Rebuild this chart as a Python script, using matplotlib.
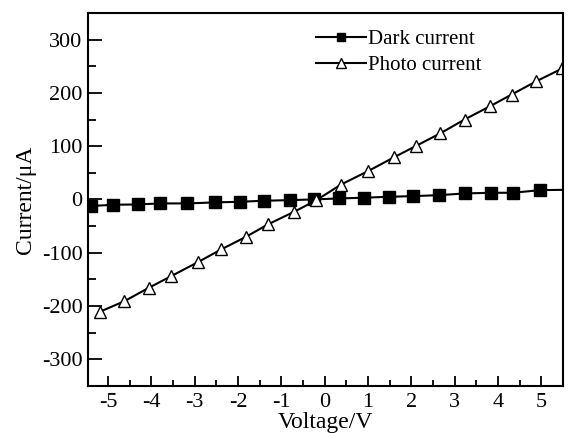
import matplotlib
matplotlib.use("Agg")
import matplotlib.pyplot as plt
from matplotlib.ticker import MultipleLocator

plt.rcParams['font.family'] = ['Liberation Serif', 'DejaVu Serif']

# dark current (last point only carries the line to the right edge)
v_dark = [-5.40, -4.88, -4.30, -3.79, -3.17, -2.53, -1.96, -1.41, -0.79, -0.24,
          0.34, 0.91, 1.49, 2.05, 2.64, 3.23, 3.85, 4.35, 4.97, 5.50]
i_dark = [-12.5, -10, -9.4, -7.5, -7.5, -5.6, -4.4, -2.5, -1.3, 0,
          1.9, 3.2, 5, 6.2, 8, 11.2, 12.5, 12.5, 17.4, 18]

# photo current
v_photo = [-5.19, -4.62, -4.06, -3.54, -2.93, -2.39, -1.81, -1.31, -0.70, -0.20,
           0.38, 1.0, 1.6, 2.1, 2.67, 3.23, 3.82, 4.32, 4.89, 5.49]
i_photo = [-211, -191, -166, -144, -118, -94, -70, -47, -23, -2,
           28, 53, 79, 100, 124, 150, 175, 197, 222, 246]

fig = plt.figure(figsize=(5.72, 4.34), dpi=100)
ax = fig.add_axes([0.154, 0.111, 0.830, 0.859])

ax.plot(v_dark, i_dark, '-', color='black', lw=1.5, marker='s', ms=8,
        markevery=list(range(len(v_dark) - 1)), label='Dark current')
ax.plot(v_photo, i_photo, '-', color='black', lw=1.5, marker='^', ms=9,
        mfc='white', mec='black', mew=1.0, label='Photo current')

ax.set_xlim(-5.46, 5.5)
ax.set_ylim(-350, 350)
ax.xaxis.set_major_locator(MultipleLocator(1))
ax.xaxis.set_minor_locator(MultipleLocator(0.5))
ax.yaxis.set_major_locator(MultipleLocator(100))
ax.yaxis.set_minor_locator(MultipleLocator(50))

ax.tick_params(axis='x', which='major', direction='in', length=7, width=1.3, labelsize=16, pad=5)
ax.tick_params(axis='x', which='minor', direction='in', length=4, width=1.3)
ax.tick_params(axis='y', which='major', direction='in', length=10, width=1.3, labelsize=16, pad=4)
ax.tick_params(axis='y', which='minor', direction='in', length=6, width=1.3)
ax.xaxis.set_major_formatter(plt.FuncFormatter(lambda v, p: f"{v:g}"))
ax.yaxis.set_major_formatter(plt.FuncFormatter(lambda v, p: f"{v:g}"))

for s in ax.spines.values():
    s.set_linewidth(1.5)

ax.set_xlabel('Voltage/V', fontsize=17, labelpad=0)
ax.set_ylabel('Current/\u03bcA', fontsize=17, labelpad=4)

ax.legend(loc='upper left', bbox_to_anchor=(0.445, 1.0), frameon=False, fontsize=15,
          handlelength=2.4, handletextpad=0.1, markerscale=0.75, labelspacing=0.3,
          borderaxespad=0.4)

fig.savefig('out.png', dpi=100)
